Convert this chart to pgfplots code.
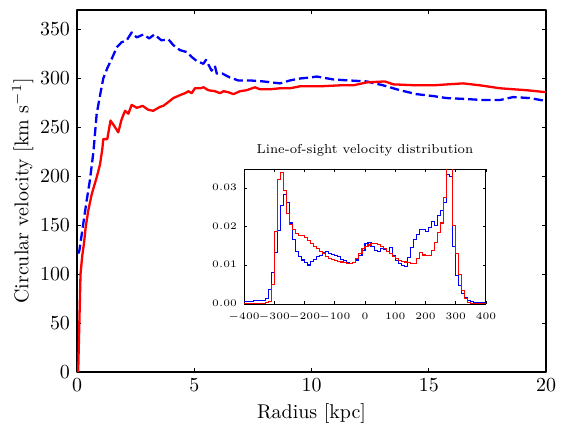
\documentclass[border=0pt]{standalone}
\usepackage{pgfplots}
\usepackage{pgfplotstable}
\pgfplotsset{compat=1.18}

% LOS velocity histograms: left bin edge, blue, red (last row closes the steps)
\pgfplotstableread{
v    blue   red
-400 0.0006 0.0002
-390 0.0006 0.0002
-380 0.0007 0.0002
-370 0.0008 0.0002
-360 0.0008 0.0002
-350 0.0009 0.0002
-340 0.0010 0.0002
-330 0.0015 0.0003
-320 0.0037 0.0006
-310 0.0082 0.0050
-300 0.0133 0.0187
-290 0.0190 0.0322
-280 0.0255 0.0340
-270 0.0283 0.0295
-260 0.0263 0.0235
-250 0.0210 0.0207
-240 0.0167 0.0192
-230 0.0135 0.0182
-220 0.0122 0.0178
-210 0.0114 0.0177
-200 0.0108 0.0172
-190 0.0101 0.0165
-180 0.0110 0.0157
-170 0.0115 0.0150
-160 0.0122 0.0143
-150 0.0126 0.0137
-140 0.0133 0.0130
-130 0.0135 0.0124
-120 0.0132 0.0118
-110 0.0129 0.0115
-100 0.0126 0.0112
-90  0.0122 0.0110
-80  0.0116 0.0109
-70  0.0112 0.0107
-60  0.0108 0.0106
-50  0.0105 0.0104
-40  0.0107 0.0108
-30  0.0114 0.0118
-20  0.0126 0.0130
-10  0.0139 0.0143
0    0.0156 0.0150
10   0.0160 0.0153
20   0.0148 0.0157
30   0.0138 0.0158
40   0.0135 0.0154
50   0.0145 0.0149
60   0.0142 0.0143
70   0.0136 0.0137
80   0.0146 0.0130
90   0.0126 0.0122
100  0.0112 0.0117
110  0.0104 0.0113
120  0.0099 0.0111
130  0.0098 0.0109
140  0.0121 0.0107
150  0.0147 0.0104
160  0.0168 0.0105
170  0.0181 0.0118
180  0.0194 0.0133
190  0.0192 0.0127
200  0.0189 0.0126
210  0.0198 0.0125
220  0.0215 0.0138
230  0.0204 0.0160
240  0.0230 0.0185
250  0.0242 0.0210
260  0.0263 0.0275
270  0.0335 0.0380
280  0.0330 0.0380
290  0.0150 0.0204
300  0.0074 0.0130
310  0.0047 0.0076
320  0.0027 0.0036
330  0.0017 0.0015
340  0.0009 0.0004
350  0.0006 0.0002
360  0.0005 0.0002
370  0.0005 0.0002
380  0.0005 0.0002
390  0.0005 0.0002
400  0.0005 0.0002
}\losvd

\begin{document}
\begin{tikzpicture}
\begin{axis}[
  name=main,
  scale only axis, width=234.5bp, height=181bp,
  xmin=0, xmax=20, ymin=0, ymax=370,
  xtick={0,5,...,20}, ytick={0,50,...,350},
  tick align=inside, major tick length=2.2bp,
  every tick/.style={black, line width=0.5pt},
  axis line style={line width=0.6pt},
  xlabel={Radius [kpc]},
  ylabel={Circular velocity [km s$^{-1}$]},
  xlabel style={yshift=1bp},
  ylabel style={yshift=-3.5bp},
  line join=round]
\addplot[blue, line width=1.15bp, dash pattern=on 4.6bp off 2bp] coordinates {
 (0.05,121) (0.1,124) (0.27,152) (0.41,175) (0.55,196) (0.7,225) (0.84,264)
 (1.0,285) (1.12,300) (1.3,311) (1.48,320) (1.7,332) (1.9,337) (2.12,339)
 (2.33,347) (2.55,342) (2.83,345) (3.08,341) (3.3,345) (3.6,339) (3.9,340)
 (4.11,334) (4.39,329) (4.68,327) (4.89,322) (5.1,318) (5.39,315) (5.5,319)
 (5.74,308) (5.88,313) (5.96,305) (6.2,305) (6.52,301) (6.88,298) (7.38,298)
 (7.94,297) (8.66,295) (9.08,298) (9.51,300) (9.94,301) (10.22,302) (10.93,299)
 (11.6,298) (12.35,297) (13.06,293) (13.77,288) (14.48,284) (15.2,282)
 (15.76,280) (16.6,279) (17.3,278) (18.04,278) (18.6,281) (19.3,280) (20,277)};
\addplot[red, line width=1.15bp] coordinates {
 (0.05,0) (0.1,50) (0.15,100) (0.22,118) (0.3,132) (0.37,148) (0.48,165)
 (0.63,182) (0.84,199) (0.98,212) (1.08,228) (1.12,238) (1.29,238) (1.43,257)
 (1.6,251) (1.76,245) (1.9,258) (2.05,267) (2.19,264) (2.33,273) (2.55,270)
 (2.8,272) (3.04,268) (3.25,267) (3.54,271) (3.68,272) (3.9,276) (4.11,280)
 (4.39,283) (4.61,285) (4.75,287) (4.89,285) (5.03,290) (5.25,290) (5.4,291)
 (5.6,288) (5.88,287) (6.1,285) (6.25,287) (6.45,286) (6.67,284) (6.95,287)
 (7.23,288) (7.59,291) (7.8,289) (8.23,289) (8.66,290) (9.08,290) (9.51,292)
 (10.36,292) (11.2,293) (11.78,293) (12.35,296) (13.13,297) (13.49,294)
 (14.48,293) (15.2,293) (15.8,294) (16.47,295) (17.19,293) (18.04,290)
 (19.18,288) (20,286)};
\end{axis}

\begin{axis}[
  at={(83.5bp,34bp)}, anchor=south west,
  scale only axis, width=121bp, height=67.5bp,
  xmin=-400, xmax=400, ymin=0, ymax=0.035,
  xtick={-400,-300,...,400}, ytick={0,0.01,0.02,0.03},
  scaled y ticks=false,
  yticklabel style={yshift=0.5bp, /pgf/number format/.cd, fixed, fixed zerofill, precision=2},
  tick label style={font=\fontsize{5.4}{6.3}\selectfont},
  xticklabel style={yshift=-1bp, inner xsep=0.5pt},
  tick align=inside, major tick length=1.5bp,
  every tick/.style={black, line width=0.4pt},
  axis line style={line width=0.5pt},
  axis background/.style={fill=white},
  title={Line-of-sight velocity distribution},
  title style={font=\fontsize{6.5}{8}\selectfont, yshift=-3bp}]
\addplot[blue, line width=0.55bp, const plot] table[x=v, y=blue] {\losvd};
\addplot[red, line width=0.55bp, const plot] table[x=v, y=red] {\losvd};
\end{axis}
% page size as in the reference: margins round the main axis box
\pgfresetboundingbox
\path (-38.5bp,-25.5bp) rectangle (246bp,186bp);
\end{tikzpicture}
\end{document}
